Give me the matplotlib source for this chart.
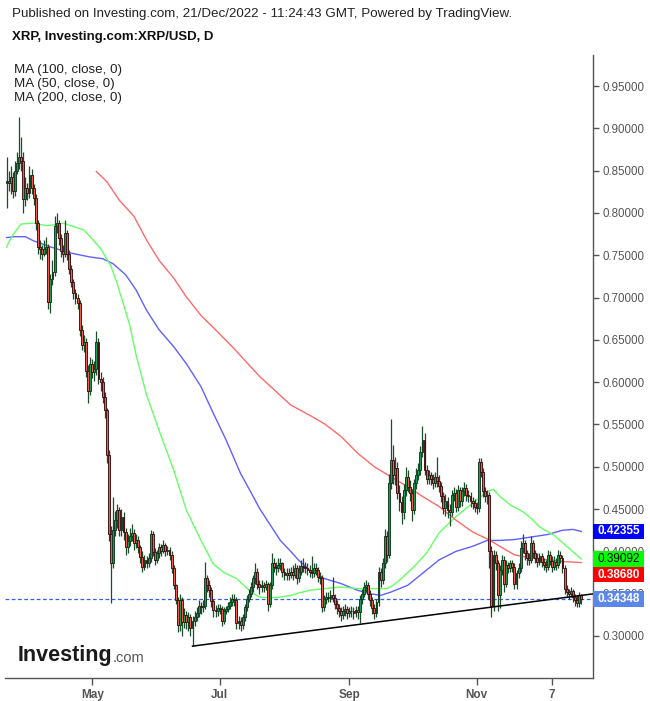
import matplotlib
matplotlib.use('Agg')
import matplotlib.pyplot as plt
import matplotlib.dates as mdates
from matplotlib.transforms import blended_transform_factory
from matplotlib.patches import Rectangle
import pandas as pd

plt.rcParams['font.family'] = ['Liberation Sans', 'DejaVu Sans']

# ---------------- data ----------------
start_date = '2022-03-21'
end_date = '2022-12-21'
first_open = 0.835

closes = [
    0.838, 0.836, 0.843, 0.826, 0.850, 0.859, 0.866, 0.861, 0.816, 0.829,
    0.824, 0.845, 0.829, 0.818, 0.788, 0.760, 0.757, 0.752, 0.757, 0.760,
    0.695, 0.722, 0.730, 0.785, 0.788, 0.770, 0.755, 0.752, 0.776, 0.752,
    0.734, 0.719, 0.705, 0.700, 0.694, 0.662, 0.644, 0.648, 0.613, 0.590,
    0.622, 0.612, 0.616, 0.647, 0.604, 0.600, 0.583, 0.567, 0.514, 0.421,
    0.386, 0.425, 0.437, 0.449, 0.425, 0.441, 0.423, 0.405, 0.412, 0.418,
    0.422, 0.410, 0.414, 0.405, 0.393, 0.382, 0.390, 0.386, 0.392, 0.421,
    0.399, 0.390, 0.398, 0.405, 0.400, 0.408, 0.400, 0.402, 0.396, 0.380,
    0.360, 0.343, 0.313, 0.343, 0.316, 0.325, 0.316, 0.323, 0.310, 0.318,
    0.322, 0.327, 0.336, 0.334, 0.336, 0.368, 0.360, 0.354, 0.341, 0.331,
    0.330, 0.333, 0.332, 0.318, 0.330, 0.332, 0.336, 0.340, 0.344, 0.343,
    0.315, 0.318, 0.313, 0.322, 0.334, 0.344, 0.350, 0.358, 0.368, 0.376,
    0.362, 0.358, 0.360, 0.358, 0.361, 0.338, 0.360, 0.386, 0.382, 0.380,
    0.384, 0.386, 0.376, 0.372, 0.374, 0.372, 0.376, 0.372, 0.380, 0.368,
    0.376, 0.383, 0.382, 0.380, 0.378, 0.376, 0.374, 0.380, 0.378, 0.370,
    0.368, 0.334, 0.344, 0.346, 0.345, 0.348, 0.345, 0.338, 0.333, 0.330,
    0.325, 0.330, 0.332, 0.327, 0.329, 0.330, 0.327, 0.331, 0.328, 0.344,
    0.350, 0.358, 0.360, 0.350, 0.343, 0.333, 0.327, 0.340, 0.376, 0.366,
    0.386, 0.418, 0.396, 0.481, 0.508, 0.490, 0.498, 0.469, 0.458, 0.447,
    0.473, 0.488, 0.476, 0.469, 0.449, 0.481, 0.490, 0.496, 0.518, 0.532,
    0.496, 0.486, 0.490, 0.486, 0.481, 0.488, 0.483, 0.477, 0.465, 0.451,
    0.460, 0.449, 0.447, 0.467, 0.469, 0.453, 0.473, 0.459, 0.471, 0.475,
    0.467, 0.465, 0.459, 0.457, 0.453, 0.451, 0.506, 0.494, 0.471, 0.465,
    0.467, 0.400, 0.335, 0.396, 0.386, 0.348, 0.378, 0.390, 0.362, 0.384,
    0.380, 0.386, 0.382, 0.362, 0.374, 0.380, 0.404, 0.410, 0.398, 0.392,
    0.390, 0.410, 0.398, 0.392, 0.388, 0.394, 0.388, 0.384, 0.382, 0.396,
    0.389, 0.382, 0.388, 0.384, 0.396, 0.392, 0.380, 0.356, 0.352, 0.350,
    0.353, 0.346, 0.343, 0.339, 0.348, 0.34348,
]

highs = [
    0.866, 0.850, 0.855, 0.848, 0.862, 0.872, 0.914, 0.890, 0.872, 0.842,
    0.836, 0.856, 0.852, 0.834, 0.822, 0.792, 0.768, 0.762, 0.768, 0.772,
    0.763, 0.728, 0.745, 0.797, 0.800, 0.792, 0.775, 0.762, 0.792, 0.780,
    0.756, 0.738, 0.722, 0.710, 0.704, 0.697, 0.668, 0.656, 0.652, 0.620,
    0.630, 0.628, 0.625, 0.660, 0.652, 0.612, 0.606, 0.588, 0.570, 0.520,
    0.430, 0.464, 0.448, 0.456, 0.452, 0.450, 0.446, 0.428, 0.420, 0.428,
    0.432, 0.426, 0.420, 0.418, 0.408, 0.400, 0.396, 0.394, 0.398, 0.425,
    0.424, 0.404, 0.402, 0.410, 0.409, 0.414, 0.410, 0.406, 0.405, 0.400,
    0.384, 0.362, 0.346, 0.350, 0.346, 0.333, 0.330, 0.328, 0.326, 0.324,
    0.330, 0.334, 0.342, 0.340, 0.342, 0.387, 0.372, 0.366, 0.358, 0.344,
    0.337, 0.338, 0.338, 0.336, 0.334, 0.336, 0.340, 0.346, 0.350, 0.350,
    0.346, 0.324, 0.322, 0.326, 0.338, 0.348, 0.356, 0.364, 0.372, 0.386,
    0.380, 0.366, 0.366, 0.364, 0.366, 0.364, 0.364, 0.398, 0.392, 0.388,
    0.392, 0.392, 0.388, 0.380, 0.380, 0.380, 0.382, 0.384, 0.386, 0.384,
    0.384, 0.390, 0.392, 0.388, 0.386, 0.384, 0.394, 0.386, 0.386, 0.382,
    0.376, 0.372, 0.348, 0.352, 0.352, 0.354, 0.370, 0.350, 0.342, 0.338,
    0.334, 0.336, 0.338, 0.336, 0.334, 0.336, 0.334, 0.336, 0.336, 0.348,
    0.356, 0.364, 0.366, 0.364, 0.354, 0.346, 0.338, 0.344, 0.382, 0.380,
    0.392, 0.426, 0.424, 0.492, 0.557, 0.526, 0.512, 0.506, 0.478, 0.466,
    0.480, 0.500, 0.496, 0.484, 0.474, 0.486, 0.498, 0.504, 0.524, 0.548,
    0.540, 0.502, 0.496, 0.494, 0.492, 0.494, 0.512, 0.490, 0.482, 0.470,
    0.468, 0.464, 0.456, 0.472, 0.476, 0.474, 0.478, 0.476, 0.476, 0.482,
    0.480, 0.472, 0.470, 0.464, 0.462, 0.458, 0.510, 0.510, 0.498, 0.476,
    0.472, 0.470, 0.406, 0.402, 0.400, 0.390, 0.384, 0.396, 0.394, 0.390,
    0.388, 0.390, 0.390, 0.386, 0.378, 0.386, 0.412, 0.420, 0.414, 0.402,
    0.398, 0.418, 0.414, 0.402, 0.398, 0.398, 0.398, 0.392, 0.390, 0.402,
    0.400, 0.394, 0.394, 0.392, 0.402, 0.400, 0.396, 0.384, 0.360, 0.356,
    0.358, 0.356, 0.350, 0.348, 0.352, 0.350,
]

lows = [
    0.806, 0.826, 0.822, 0.818, 0.820, 0.846, 0.852, 0.850, 0.800, 0.808,
    0.815, 0.818, 0.822, 0.810, 0.780, 0.752, 0.746, 0.744, 0.749, 0.752,
    0.686, 0.682, 0.715, 0.726, 0.776, 0.762, 0.748, 0.742, 0.748, 0.745,
    0.728, 0.712, 0.698, 0.692, 0.686, 0.655, 0.638, 0.636, 0.606, 0.576,
    0.585, 0.605, 0.602, 0.608, 0.598, 0.590, 0.576, 0.558, 0.505, 0.412,
    0.339, 0.380, 0.418, 0.428, 0.418, 0.418, 0.414, 0.396, 0.398, 0.406,
    0.412, 0.402, 0.404, 0.398, 0.386, 0.376, 0.378, 0.380, 0.382, 0.388,
    0.394, 0.384, 0.386, 0.392, 0.394, 0.398, 0.395, 0.396, 0.390, 0.374,
    0.355, 0.338, 0.305, 0.306, 0.300, 0.310, 0.308, 0.306, 0.300, 0.288,
    0.312, 0.318, 0.322, 0.326, 0.328, 0.332, 0.352, 0.346, 0.334, 0.322,
    0.322, 0.324, 0.326, 0.312, 0.314, 0.326, 0.328, 0.332, 0.336, 0.336,
    0.308, 0.308, 0.306, 0.308, 0.318, 0.330, 0.340, 0.346, 0.352, 0.362,
    0.356, 0.350, 0.352, 0.352, 0.354, 0.330, 0.334, 0.356, 0.376, 0.372,
    0.376, 0.378, 0.370, 0.366, 0.366, 0.366, 0.368, 0.366, 0.368, 0.362,
    0.364, 0.372, 0.376, 0.374, 0.372, 0.370, 0.368, 0.370, 0.372, 0.364,
    0.362, 0.328, 0.330, 0.338, 0.340, 0.340, 0.340, 0.332, 0.326, 0.322,
    0.318, 0.320, 0.324, 0.320, 0.322, 0.322, 0.320, 0.322, 0.320, 0.315,
    0.338, 0.346, 0.352, 0.344, 0.336, 0.326, 0.320, 0.322, 0.336, 0.358,
    0.362, 0.380, 0.388, 0.392, 0.474, 0.480, 0.478, 0.462, 0.448, 0.432,
    0.438, 0.466, 0.470, 0.460, 0.436, 0.444, 0.474, 0.484, 0.490, 0.512,
    0.490, 0.480, 0.480, 0.478, 0.474, 0.476, 0.476, 0.470, 0.458, 0.444,
    0.442, 0.440, 0.430, 0.442, 0.460, 0.446, 0.448, 0.452, 0.454, 0.466,
    0.460, 0.458, 0.452, 0.450, 0.446, 0.444, 0.446, 0.488, 0.464, 0.458,
    0.456, 0.380, 0.323, 0.330, 0.378, 0.330, 0.333, 0.372, 0.352, 0.358,
    0.374, 0.376, 0.376, 0.355, 0.356, 0.368, 0.376, 0.398, 0.390, 0.384,
    0.384, 0.386, 0.392, 0.386, 0.382, 0.384, 0.382, 0.378, 0.376, 0.378,
    0.384, 0.376, 0.378, 0.378, 0.380, 0.386, 0.374, 0.350, 0.346, 0.344,
    0.346, 0.340, 0.336, 0.334, 0.334, 0.338,
]

ma100_dates = ['2022-03-21', '2022-03-25', '2022-03-30', '2022-04-03', '2022-04-11', '2022-04-20',
               '2022-04-30', '2022-05-06', '2022-05-11', '2022-05-17', '2022-05-22', '2022-05-27',
               '2022-06-02', '2022-06-09', '2022-06-15', '2022-06-22', '2022-06-28', '2022-07-04',
               '2022-07-11', '2022-07-17', '2022-07-20', '2022-07-30', '2022-08-04', '2022-08-08',
               '2022-08-13', '2022-08-20', '2022-08-28', '2022-09-05', '2022-09-11', '2022-09-16',
               '2022-09-21', '2022-09-29', '2022-10-06', '2022-10-14', '2022-10-22', '2022-10-30',
               '2022-11-06', '2022-11-12', '2022-11-19', '2022-11-27', '2022-12-05', '2022-12-12',
               '2022-12-17', '2022-12-21']
ma100_values = [0.771, 0.772, 0.772, 0.767, 0.760, 0.753,
                0.748, 0.746, 0.740, 0.727, 0.709, 0.685,
                0.662, 0.642, 0.622, 0.595, 0.563, 0.532,
                0.492, 0.465, 0.451, 0.413, 0.400, 0.389,
                0.378, 0.368, 0.362, 0.354, 0.350, 0.348,
                0.352, 0.360, 0.374, 0.390, 0.400, 0.406,
                0.413, 0.413, 0.414, 0.417, 0.420, 0.425,
                0.426, 0.42355]

ma50_dates = ['2022-03-21', '2022-03-24', '2022-03-28', '2022-04-03', '2022-04-09', '2022-04-13',
              '2022-04-17', '2022-04-22', '2022-04-27', '2022-04-30', '2022-05-05', '2022-05-10',
              '2022-05-13', '2022-05-16', '2022-05-19', '2022-05-22', '2022-05-27', '2022-06-02',
              '2022-06-09', '2022-06-15', '2022-06-22', '2022-06-28', '2022-07-03', '2022-07-09',
              '2022-07-16', '2022-07-20', '2022-07-25', '2022-07-30', '2022-08-04', '2022-08-08',
              '2022-08-13', '2022-08-20', '2022-08-28', '2022-09-05', '2022-09-13', '2022-09-19',
              '2022-09-22', '2022-09-25', '2022-10-02', '2022-10-08', '2022-10-14', '2022-10-22',
              '2022-10-30', '2022-11-06', '2022-11-09', '2022-11-12', '2022-11-17', '2022-11-23',
              '2022-11-27', '2022-12-01', '2022-12-08', '2022-12-14', '2022-12-21']
ma50_values = [0.760, 0.774, 0.787, 0.788, 0.785, 0.786,
               0.788, 0.784, 0.780, 0.772, 0.758, 0.737,
               0.716, 0.692, 0.667, 0.632, 0.585, 0.543,
               0.496, 0.449, 0.413, 0.385, 0.375, 0.368,
               0.352, 0.346, 0.345, 0.346, 0.348, 0.351,
               0.354, 0.356, 0.358, 0.356, 0.356, 0.356,
               0.360, 0.366, 0.382, 0.398, 0.422, 0.441,
               0.457, 0.4706, 0.4734, 0.465, 0.455, 0.447,
               0.439, 0.429, 0.419, 0.406, 0.39092]

ma200_dates = ['2022-05-03', '2022-05-08', '2022-05-14', '2022-05-21', '2022-05-27', '2022-06-02',
               '2022-06-09', '2022-06-15', '2022-06-22', '2022-06-29', '2022-07-07', '2022-07-20',
               '2022-08-04', '2022-08-13', '2022-08-20', '2022-08-28', '2022-09-05', '2022-09-13',
               '2022-09-21', '2022-09-30', '2022-10-06', '2022-10-14', '2022-10-22', '2022-10-30',
               '2022-11-07', '2022-11-12', '2022-11-19', '2022-11-27', '2022-12-05', '2022-12-12',
               '2022-12-21']
ma200_values = [0.849, 0.837, 0.815, 0.796, 0.768, 0.744,
                0.723, 0.701, 0.679, 0.662, 0.642, 0.607,
                0.573, 0.561, 0.551, 0.536, 0.516, 0.500,
                0.488, 0.475, 0.465, 0.453, 0.437, 0.423,
                0.4135, 0.406, 0.396, 0.392, 0.390, 0.388,
                0.3868]

trend_dates = ['2022-06-18', '2022-12-30']
trend_prices = [0.288, 0.3509]

last_price = 0.34348
ma100_last = 0.42355
ma50_last = 0.39092
ma200_last = 0.38680

y_ticks = [0.30, 0.35, 0.40, 0.45, 0.50, 0.55, 0.60, 0.65, 0.70, 0.75, 0.80, 0.85, 0.90, 0.95]
x_tick_dates = ['2022-05-01', '2022-07-01', '2022-09-01', '2022-11-01', '2022-12-07']
x_tick_labels = ['May', 'Jul', 'Sep', 'Nov', '7']

header = 'Published on Investing.com, 21/Dec/2022 - 11:24:43 GMT, Powered by TradingView.'
title = 'XRP, Investing.com:XRP/USD, D'
legend_lines = ['MA (100, close, 0)', 'MA (50, close, 0)', 'MA (200, close, 0)']

# ---------------- figure ----------------
W, H = 650, 701
fig = plt.figure(figsize=(W / 100, H / 100), dpi=100)
fig.patch.set_facecolor('white')

ax_left, ax_right, ax_top, ax_bottom = 5, 593, 55, 678
ax = fig.add_axes([ax_left / W, 1 - ax_bottom / H, (ax_right - ax_left) / W, (ax_bottom - ax_top) / H])
ax.set_facecolor('white')

dates = pd.date_range(start_date, end_date, freq='D')
xs = mdates.date2num(dates)
opens = [first_open] + closes[:-1]

up_face, up_edge = '#1f9a55', '#0c3a1d'
dn_face, dn_edge = '#f25a50', '#3e0c0c'
wick_col = '#1b4d2c'

ax.vlines(xs, lows, highs, color=wick_col, linewidth=0.9, zorder=3)
for xv, o, c in zip(xs, opens, closes):
    up = c >= o
    ax.bar(xv, abs(c - o) if abs(c - o) > 0 else 0.0005, bottom=min(o, c), width=0.9,
           color=up_face if up else dn_face, edgecolor=up_edge if up else dn_edge,
           linewidth=0.65, zorder=4)

ax.plot(mdates.datestr2num(ma100_dates), ma100_values, color='#6060ff', lw=1.0, zorder=2)
ax.plot(mdates.datestr2num(ma50_dates), ma50_values, color='#66ff66', lw=1.0, zorder=2)
ax.plot(mdates.datestr2num(ma200_dates), ma200_values, color='#ff6a6a', lw=1.0, zorder=2)

ax.axhline(last_price, color='#2f63e0', lw=0.9, ls=(0, (3, 2)), zorder=2)
ax.plot(mdates.datestr2num(trend_dates), trend_prices, color='black', lw=1.1, zorder=5)

ax.set_xlim(xs[0] - 0.72, xs[0] + 280.6)
ax.set_ylim(0.25035, 0.98676)

for s in ['top', 'left']:
    ax.spines[s].set_visible(False)
for s in ['right', 'bottom']:
    ax.spines[s].set_color('#555555')
    ax.spines[s].set_linewidth(1.0)

ax.yaxis.tick_right()
ax.set_yticks(y_ticks)
ax.set_yticklabels([f'{v:.5f}' for v in y_ticks])
ax.tick_params(axis='y', colors='#555555', labelsize=8.3, length=4, width=1, pad=3)
ax.set_xticks(mdates.datestr2num(x_tick_dates))
ax.set_xticklabels(x_tick_labels)
ax.tick_params(axis='x', colors='#555555', labelsize=8.5, length=5, width=1, pad=3)
for lab in ax.get_xticklabels():
    lab.set_fontweight('bold')

# price tags on the right axis (drawn over the tick labels, as in the original)
trans = blended_transform_factory(ax.transAxes, ax.transData)
tag_h = 15.5 / 846.0
tag_w = 51.0 / (ax_right - ax_left)
tags = [
    (ma100_last, ma100_last, '#0000ff', 'white', 'bold'),
    (ma50_last, ma50_last, '#00ff00', 'black', 'normal'),
    (ma200_last, ma50_last - tag_h, '#ff0000', 'white', 'bold'),
    (last_price, last_price, '#5b86ea', 'white', 'bold'),
]
for val, ypos, fc, tc, fw in tags:
    r = Rectangle((1.0, ypos - tag_h / 2), tag_w, tag_h, transform=trans, facecolor=fc,
                  edgecolor='none', clip_on=False, zorder=10)
    ax.add_patch(r)
    ax.text(1.0 + tag_w / 2, ypos, f'{val:.5f}', transform=trans, ha='center', va='center',
            color=tc, fontsize=8.5, fontweight=fw, clip_on=False, zorder=11)

# texts
fig.text(12 / W, 1 - 14 / H, header, fontsize=9.6, color='#222222', ha='left', va='center')
fig.text(12 / W, 1 - 37 / H, title, fontsize=9.5, fontweight='bold', color='#111111', ha='left', va='center')
for k, t in enumerate(legend_lines):
    fig.text(14 / W, 1 - (70 + 14 * k) / H, t, fontsize=9.6, color='#222222', ha='left', va='center')

# logo
t1 = fig.text(18 / W, 1 - 656 / H, 'Investing', fontsize=15.5, fontweight='bold', color='#1a1a1a',
              ha='left', va='center')
fig.canvas.draw()
bb = t1.get_window_extent()
fig.text(bb.x1 / W, 1 - 658 / H, '.com', fontsize=10.5, color='#555555', ha='left', va='center')

fig.savefig('out.png', dpi=100, facecolor='white')
